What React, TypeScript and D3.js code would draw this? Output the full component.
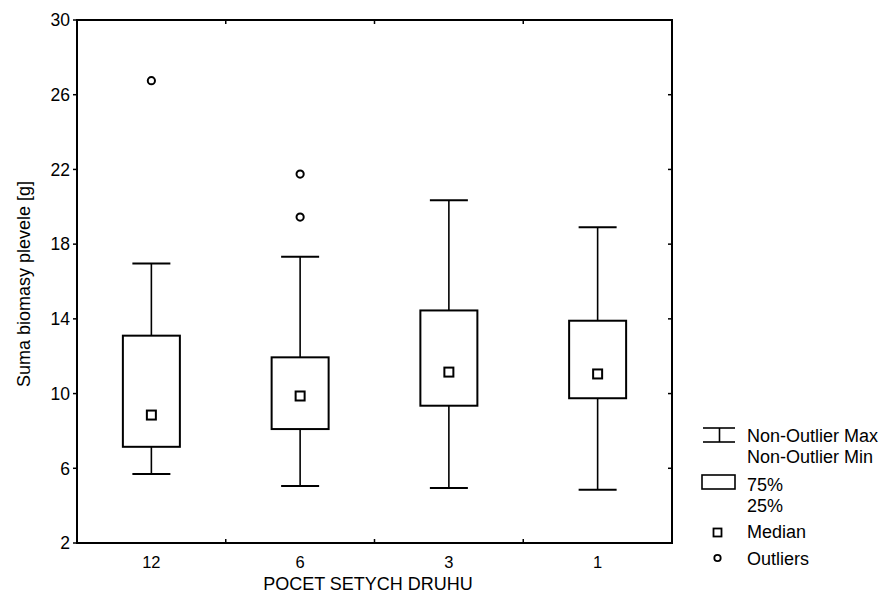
import React from "react";
import * as d3 from "d3";

// Box-plot summary per group (weed biomass, g)
const categories = ["12", "6", "3", "1"];
const whiskerMax = [16.97, 17.33, 20.35, 18.9];
const q3 = [13.1, 11.94, 14.45, 13.9];
const medians = [8.85, 9.87, 11.15, 11.05];
const q1 = [7.15, 8.1, 9.35, 9.75];
const whiskerMin = [5.7, 5.05, 4.95, 4.85];
const outliers = [[26.75], [21.75, 19.45], [], []];

const yTicks = [2, 6, 10, 14, 18, 22, 26, 30];
const legendLabels = ["Non-Outlier Max", "Non-Outlier Min", "75%", "25%", "Median", "Outliers"];

const W = 883;
const H = 607;
const plot = { left: 77, right: 672, top: 20, bottom: 543 };
const FONT = "Liberation Sans, Arial, sans-serif";

export default function App() {
  const x = d3.scaleBand<string>().domain(categories).range([plot.left, plot.right]).padding(0);
  const y = d3.scaleLinear().domain([2, 30]).range([plot.bottom, plot.top]);
  const boxW = 57;
  const capW = 38;
  const tickLen = 4;
  const boundaries = categories.slice(1).map((c) => x(c) as number);

  return (
    <svg width={W} height={H} style={{ position: "absolute", left: 0, top: 0, background: "#fff" }}>
      <rect x={0} y={0} width={W} height={H} fill="#fff" />
      {/* frame */}
      <rect
        x={plot.left}
        y={plot.top}
        width={plot.right - plot.left}
        height={plot.bottom - plot.top}
        fill="none"
        stroke="#000"
        strokeWidth={2}
      />
      {/* left axis ticks & labels */}
      {yTicks.map((t) => (
        <g key={"yl" + t}>
          <line x1={plot.left - tickLen} x2={plot.left} y1={y(t)} y2={y(t)} stroke="#000" strokeWidth={1.5} />
          <text
            x={plot.left - 7}
            y={y(t)}
            dy="0.36em"
            textAnchor="end"
            fontFamily={FONT}
            fontSize={17.5}
            fill="#000"
          >
            {t}
          </text>
        </g>
      ))}
      {/* right axis inner ticks */}
      {yTicks.slice(1, -1).map((t) => (
        <line key={"yr" + t} x1={plot.right - tickLen} x2={plot.right} y1={y(t)} y2={y(t)} stroke="#000" strokeWidth={1.5} />
      ))}
      {/* top & bottom inner ticks at group boundaries */}
      {boundaries.map((b, i) => (
        <g key={"xb" + i}>
          <line x1={b} x2={b} y1={plot.bottom} y2={plot.bottom - tickLen} stroke="#000" strokeWidth={1.5} />
          <line x1={b} x2={b} y1={plot.top} y2={plot.top + tickLen} stroke="#000" strokeWidth={1.5} />
        </g>
      ))}
      {/* x tick labels */}
      {categories.map((c) => (
        <text
          key={"xl" + c}
          x={(x(c) as number) + x.bandwidth() / 2}
          y={567.5}
          textAnchor="middle"
          fontFamily={FONT}
          fontSize={16.5}
          fill="#000"
        >
          {c}
        </text>
      ))}
      {/* axis titles */}
      <text x={368} y={590} textAnchor="middle" fontFamily={FONT} fontSize={18} fill="#000">
        POCET SETYCH DRUHU
      </text>
      <text
        transform={`translate(30,284) rotate(-90)`}
        textAnchor="middle"
        fontFamily={FONT}
        fontSize={18}
        fill="#000"
      >
        Suma biomasy plevele [g]
      </text>
      {/* boxes */}
      {categories.map((c, i) => {
        const cx = (x(c) as number) + x.bandwidth() / 2;
        return (
          <g key={"box" + c} stroke="#000" fill="none">
            <line x1={cx} x2={cx} y1={y(whiskerMax[i])} y2={y(q3[i])} strokeWidth={1.6} />
            <line x1={cx} x2={cx} y1={y(q1[i])} y2={y(whiskerMin[i])} strokeWidth={1.6} />
            <line x1={cx - capW / 2} x2={cx + capW / 2} y1={y(whiskerMax[i])} y2={y(whiskerMax[i])} strokeWidth={2} />
            <line x1={cx - capW / 2} x2={cx + capW / 2} y1={y(whiskerMin[i])} y2={y(whiskerMin[i])} strokeWidth={2} />
            <rect
              x={cx - boxW / 2}
              y={y(q3[i])}
              width={boxW}
              height={y(q1[i]) - y(q3[i])}
              strokeWidth={2}
              fill="#fff"
            />
            <rect x={cx - 4.5} y={y(medians[i]) - 4.5} width={9} height={9} strokeWidth={2} fill="#fff" />
            {outliers[i].map((o, k) => (
              <circle key={k} cx={cx} cy={y(o)} r={3.6} strokeWidth={2} fill="#fff" />
            ))}
          </g>
        );
      })}
      {/* legend */}
      <g stroke="#000" fill="none">
        <line x1={703} x2={735} y1={428} y2={428} strokeWidth={1.6} />
        <line x1={703} x2={735} y1={442} y2={442} strokeWidth={1.6} />
        <line x1={719.5} x2={719.5} y1={428} y2={442} strokeWidth={1.6} />
        <rect x={702} y={475} width={33} height={14} strokeWidth={1.6} />
        <rect x={713.5} y={528.5} width={8} height={8} strokeWidth={1.8} />
        <circle cx={717.5} cy={558} r={3.2} strokeWidth={1.8} />
      </g>
      {legendLabels.map((l, i) => (
        <text
          key={l}
          x={747}
          y={[442, 463, 491, 512, 538, 565][i]}
          fontFamily={FONT}
          fontSize={18}
          fill="#000"
        >
          {l}
        </text>
      ))}
    </svg>
  );
}
